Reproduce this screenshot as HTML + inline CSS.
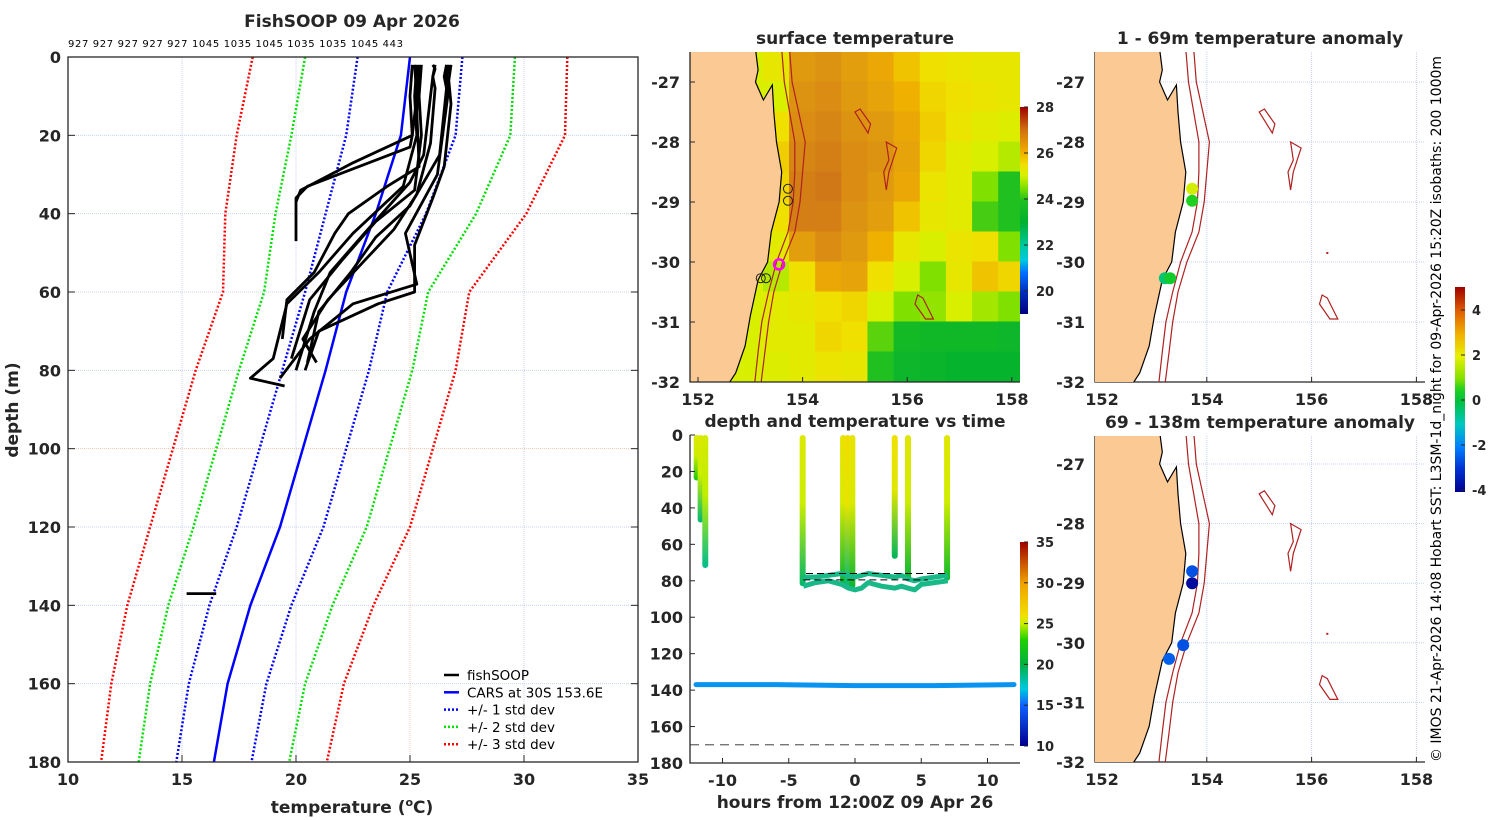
<!DOCTYPE html>
<html><head><meta charset="utf-8"><title>FishSOOP 09 Apr 2026</title>
<style>
html,body{margin:0;padding:0;background:#fff;}
svg{display:block;font-family:"DejaVu Sans","Liberation Sans",sans-serif;}
</style></head>
<body>
<svg id="fig" width="1500" height="820" viewBox="0 0 1500 820" xmlns="http://www.w3.org/2000/svg">
<defs>
<clipPath id="clipA"><rect x="690" y="52" width="330" height="330"/></clipPath>
<clipPath id="clipB"><rect x="1095" y="52" width="330" height="330"/></clipPath>
<clipPath id="clipC"><rect x="1095" y="436" width="330" height="326"/></clipPath>
<linearGradient id="gSST" x1="0" y1="1" x2="0" y2="0">
<stop offset="0" stop-color="#000080"/><stop offset="0.11" stop-color="#0030c0"/><stop offset="0.2" stop-color="#0070ff"/><stop offset="0.26" stop-color="#00c8e0"/><stop offset="0.33" stop-color="#00c8a0"/><stop offset="0.44" stop-color="#00b030"/><stop offset="0.55" stop-color="#20c020"/><stop offset="0.61" stop-color="#80e000"/><stop offset="0.67" stop-color="#d8f000"/><stop offset="0.72" stop-color="#f0e000"/><stop offset="0.78" stop-color="#f0b000"/><stop offset="0.89" stop-color="#d07010"/><stop offset="1" stop-color="#a00000"/>
</linearGradient>
<linearGradient id="gT" x1="0" y1="1" x2="0" y2="0">
<stop offset="0" stop-color="#00008f"/><stop offset="0.2" stop-color="#1060ff"/><stop offset="0.28" stop-color="#00c8e0"/><stop offset="0.4" stop-color="#00b040"/><stop offset="0.52" stop-color="#20d000"/><stop offset="0.6" stop-color="#c8f000"/><stop offset="0.64" stop-color="#f0e000"/><stop offset="0.8" stop-color="#f0a000"/><stop offset="1" stop-color="#a00000"/>
</linearGradient>
<linearGradient id="gAn" x1="0" y1="1" x2="0" y2="0">
<stop offset="0" stop-color="#00008f"/><stop offset="0.11" stop-color="#0030d0"/><stop offset="0.22" stop-color="#0080ff"/><stop offset="0.33" stop-color="#00c8c0"/><stop offset="0.44" stop-color="#00c040"/><stop offset="0.5" stop-color="#20d020"/><stop offset="0.55" stop-color="#80e000"/><stop offset="0.66" stop-color="#e8f000"/><stop offset="0.77" stop-color="#f0b000"/><stop offset="0.88" stop-color="#e06000"/><stop offset="1" stop-color="#a00000"/>
</linearGradient>
</defs>
</svg>
<script>
// ---------------- DATA ----------------
const cnts = "927 927 927 927 927 1045 1035 1045 1035 1035 1045 443";
const carsDepth = [0,20,40,60,80,100,120,140,160,180];
const carsMean = [25.0,24.6,23.5,22.2,21.3,20.3,19.3,18.0,17.0,16.4];
const carsStd = [2.3,2.4,2.2,1.8,1.9,1.9,1.9,1.8,1.7,1.65];
const profTemps = [
 [25.1,25.0,25.1,25.0,20.5,20.0,20.0],
 [25.2,25.3,25.1,22.5,20.2,20.0],
 [25.4,25.3,25.4,24.0,22.3,21.7,20.8,19.6,19.4],
 [26.6,26.5,26.6,26.3,25.0,23.5,22.4,21.0,20.5],
 [26.8,26.7,26.8,26.5,26.0,25.2,25.2,23.6,21.0,20.4],
 [26.0,26.1,26.0,25.6,25.0,23.0,21.5,20.8,20.0],
 [25.5,25.4,25.5,25.2,23.5,22.0,20.6,19.8],
 [26.7,26.6,26.7,26.2,24.8,25.3,22.5,20.6,19.3],
 [25.3,25.2,25.3,24.7,22.5,21.0,19.6,19.0,18.0,19.5],
 [26.1,26.0,26.1,25.9,25.3,24.3,23.0,21.4,20.3,20.9],
 [15.2,16.5]
];
const profDepths = [
 [2,10,20,23,33,36,47],
 [2,10,20,27,34,37],
 [2,14,28,33,40,45,55,62,72],
 [2,5,8,25,38,46,55,65,78],
 [2,6,12,28,36,48,60,63,70,80],
 [2,3,5,25,32,45,55,65,80],
 [2,10,20,34,42,52,62,77],
 [2,5,8,30,45,58,63,72,82],
 [2,10,20,33,45,55,63,77,82,84],
 [2,5,8,22,35,44,52,62,72,78],
 [137,137]
];
const sstLats = [-26.75,-27.25,-27.75,-28.25,-28.75,-29.25,-29.75,-30.25,-30.75,-31.25,-31.75];
const sstLons = [152.0,152.5,153.0,153.5,154.0,154.5,155.0,155.5,156.0,156.5,157.0,157.5,158.0];
const sstVals = [
 [25,25,25,25.3,26.5,26.6,26.4,26.2,25.8,25.5,25.4,25.3,25.3],
 [25,25,25,25.0,26.6,26.7,26.5,26.3,26.0,25.6,25.5,25.4,25.3],
 [25,25,25,25.5,26.7,26.8,26.6,26.5,26.2,25.7,25.4,25.2,25.1],
 [25,25,25,25.7,26.8,26.9,26.7,26.6,26.3,25.6,25.2,25.0,24.8],
 [25,25,25,25.6,26.9,27.0,26.7,26.5,26.2,25.4,25.2,24.5,24.0],
 [25,25,25,25.5,26.9,26.9,26.6,26.4,25.8,25.3,25.2,24.2,24.0],
 [25,25,25,25.2,26.4,26.7,26.5,26.0,25.3,25.0,25.4,25.5,24.5],
 [25,25,25,24.8,25.5,26.2,26.3,25.5,25.0,24.5,25.3,25.8,25.6],
 [25,25,25,25.2,25.3,25.5,25.6,25.0,24.5,24.6,25.0,24.7,24.5],
 [25,25,25,25.2,25.2,25.6,25.5,24.3,23.6,23.5,23.5,23.5,23.4],
 [25,25,25,25.1,25.2,25.4,25.3,24.0,23.4,23.3,23.2,23.2,23.2]
];
const coastLon = [151.8,153.1,153.15,153.1,153.25,153.42,153.45,153.5,153.6,153.55,153.4,153.33,153.15,153.0,152.9,152.72,152.57,151.8];
const coastLat = [-26.45,-26.45,-26.8,-27.0,-27.3,-27.05,-27.5,-28.0,-28.5,-29.0,-29.5,-30.0,-30.3,-30.9,-31.4,-31.85,-32.05,-32.05];
const iso200Lat = [-26.45,-27.0,-28.0,-28.5,-29.0,-29.5,-30.0,-30.5,-31.0,-31.5,-32.05];
const iso200Lon = [153.6,153.65,153.85,153.85,153.82,153.72,153.5,153.35,153.22,153.15,153.08];
const iso1000Lon = [153.75,153.8,154.05,154.0,153.95,153.85,153.62,153.45,153.35,153.28,153.2];
const smtLon = [[155.0,155.1,155.3,155.25,155.0],[155.6,155.8,155.65,155.6,155.55,155.65,155.6],[156.2,156.3,156.5,156.35,156.15,156.2]];
const smtLat = [[-27.5,-27.45,-27.7,-27.85,-27.5],[-28.0,-28.1,-28.5,-28.8,-28.5,-28.3,-28.0],[-30.55,-30.6,-30.95,-30.95,-30.7,-30.55]];
const stnLon = [153.72,153.72,153.2,153.3];
const stnLat = [-28.78,-28.98,-30.27,-30.27];
const anomTop = [1.8,0.5,-0.4,0.3];
const anomBotLon = [153.72,153.72,153.55,153.28];
const anomBotLat = [-28.8,-29.0,-30.04,-30.27];
const anomBot = [-2.6,-3.8,-2.6,-2.4];
const castTime = [-11.95,-11.65,-11.3,-3.95,-0.9,-0.55,-0.2,3.0,4.0,6.95];
const castDepth = [25,48,73,83,82,84,84,68,80,80];
const castTop = [25.5,25.5,25.3,25.5,25.8,26.2,25.8,26.0,25.6,25.6];
const castBot = [22.0,19.0,18.5,19.2,20.5,19.0,20.5,19.5,20.5,21.0];
const botTime = [-3.9,-3,-2,-1,-0.5,0,0.5,1,2,3,3.5,4,4.5,5,6,7];
const botDepthA = [83,81,80,82,84,85,84,81,83,84,83,84,85,82,81,80];
const botDepthB = [78,78,77,76,77,78,77,76,77,78,77,79,80,79,78,77];
const deepTime = [-12,-6,0,6,12];
const deepDepth = [137,137,137.5,137.5,137];
const deepTemp = [16.5,16.0,15.6,16.0,16.0];
const botDash = [170];

// ---------------- HELPERS ----------------
const NS = "http://www.w3.org/2000/svg";
const svg = document.getElementById('fig');
function mk(tag, attrs, parent){
  const e = document.createElementNS(NS, tag);
  for (const k in attrs) e.setAttribute(k, attrs[k]);
  (parent||svg).appendChild(e);
  return e;
}
function txt(x,y,s,size,anchor,parent,bold){
  const e = mk('text',{x:x,y:y,'font-size':size,'text-anchor':anchor||'middle','font-weight':bold===false?'normal':'bold',fill:bold===false?'#000':'#262626'},parent);
  e.textContent = s;
  return e;
}
function lerpColor(stops, v){
  if (v<=stops[0][0]) return stops[0][1];
  for (let i=1;i<stops.length;i++){
    if (v<=stops[i][0]){
      const a=stops[i-1], b=stops[i], f=(v-a[0])/(b[0]-a[0]);
      const ca=[1,3,5].map(j=>parseInt(a[1].substr(j,2),16)), cb=[1,3,5].map(j=>parseInt(b[1].substr(j,2),16));
      return 'rgb('+ca.map((c,j)=>Math.round(c+(cb[j]-c)*f)).join(',')+')';
    }
  }
  return stops[stops.length-1][1];
}
const sstStops=[[19,'#000080'],[20,'#0030c0'],[21,'#0070ff'],[21.5,'#00c8e0'],[22,'#00c8a0'],[23,'#00b030'],[24,'#20c020'],[24.5,'#80e000'],[25,'#d8f000'],[25.5,'#f0e000'],[26,'#f0b000'],[26.5,'#e09a10'],[27,'#d07818'],[27.5,'#c04010'],[28,'#a00000']];
const tStops=[[10,'#00008f'],[15,'#1060ff'],[17,'#00c8e0'],[20,'#00b040'],[23,'#20d000'],[25,'#c8f000'],[26,'#f0e000'],[30,'#f0a000'],[35,'#a00000']];
const aStops=[[-4,'#00008f'],[-3,'#0030d0'],[-2,'#0080ff'],[-1,'#00c8c0'],[0,'#00c040'],[0.5,'#20d020'],[1,'#80e000'],[2,'#e8f000'],[3,'#f0b000'],[4,'#e06000'],[5,'#a00000']];

// ---------------- LEFT PANEL ----------------
const tx = t => 68+(t-10)*22.8;
const dy = d => 57+d*(705/180);
const gL = mk('g',{});


const tl = txt(352,27,'FishSOOP 09 Apr 2026',17,'middle',gL);


const cl = txt(68,47,cnts,10,'start',gL,false);
cl.setAttribute('textLength','335');


[15,20,25,30].forEach(t=>{
  const l = mk('line',{x1:tx(t),x2:tx(t),y1:57,y2:762,stroke:t===25?'#f0c8b0':'#c8d0f0','stroke-width':1,'stroke-dasharray':'1,1'},gL);
  
  
});
[20,40,60,80,100,120,140,160].forEach(d=>{
  const l = mk('line',{x1:68,x2:638,y1:dy(d),y2:dy(d),stroke:d===100?'#f0c8b0':'#c8d0f0','stroke-width':1,'stroke-dasharray':'1,1'},gL);
  
  
});
function pathOf(xs, ys){ return xs.map((x,i)=>(i?'L':'M')+x.toFixed(1)+','+ys[i].toFixed(1)).join(''); }
const stdCols = ['#0000ff','#00e000','#ff0000'];
[1,2,3].forEach(k=>{
  [-1,1].forEach(sg=>{
    const p = mk('path',{d:pathOf(carsMean.map((m,i)=>tx(m+sg*k*carsStd[i])), carsDepth.map(dy)),fill:'none',stroke:stdCols[k-1],'stroke-width':2.5,'stroke-dasharray':'2,2'},gL);
    
    
  });
});
const cars = mk('path',{d:pathOf(carsMean.map(tx), carsDepth.map(dy)),fill:'none',stroke:'#0000ff','stroke-width':2.5},gL);


profTemps.forEach((ts,i)=>{
  const p = mk('path',{d:pathOf(ts.map(tx), profDepths[i].map(dy)),fill:'none',stroke:'#000','stroke-width':2.8,'stroke-linejoin':'round'},gL);
  
  
});
const boxL = mk('rect',{x:68,y:57,width:570,height:705,fill:'none',stroke:'#262626','stroke-width':1.3},gL);


[10,15,20,25,30,35].forEach(t=>{
  mk('line',{x1:tx(t),x2:tx(t),y1:762,y2:755,stroke:'#262626'},gL);
  const e = txt(tx(t),785,String(t),16,'middle',gL);
  
  
});
[0,20,40,60,80,100,120,140,160,180].forEach(d=>{
  mk('line',{x1:68,x2:75,y1:dy(d),y2:dy(d),stroke:'#262626'},gL);
  mk('line',{x1:638,x2:631,y1:dy(d),y2:dy(d),stroke:'#262626'},gL);
  const e = txt(61,dy(d)+6,String(d),16,'end',gL);
  
  
});
const xl = mk('text',{x:352,y:813,'font-size':17,'text-anchor':'middle','font-weight':'bold',fill:'#262626'},gL);
xl.innerHTML = 'temperature (<tspan dy="-7" font-size="11">o</tspan><tspan dy="7">C)</tspan>';


const yl = mk('text',{x:0,y:0,'font-size':17,'text-anchor':'middle','font-weight':'bold',fill:'#262626',transform:'translate(18,410) rotate(-90)'},gL);
yl.textContent = 'depth (m)';


const legItems = [['fishSOOP','#000',''],['CARS at 30S 153.6E','#0000ff',''],['+/- 1 std dev','#0000ff','2,2'],['+/- 2 std dev','#00e000','2,2'],['+/- 3 std dev','#ff0000','2,2']];
legItems.forEach((it,i)=>{
  const y = 675+i*17.3;
  const g = mk('g',{},gL);
  
  
  mk('line',{x1:444,x2:459,y1:y,y2:y,stroke:it[1],'stroke-width':2.5,'stroke-dasharray':it[2]||'none'},g);
  txt(467,y+5,it[0],13.5,'start',g,false);
});

// ---------------- MAPS ----------------
const mxA = lon => 698+(lon-152)*52.3;
const myA = lat => 82+(-27-lat)*60;
const mxB = lon => 1102+(lon-152)*52.4;
const myC = lat => 464+(-27-lat)*59.6;
function drawGeo(g, mx, my){
  const land = mk('path',{d:pathOf(coastLon.map(mx),coastLat.map(my))+'Z',fill:'#fbc994',stroke:'#000','stroke-width':1.2},g);
  
  
  const i2 = mk('path',{d:pathOf(iso200Lon.map(mx),iso200Lat.map(my)),fill:'none',stroke:'#b02020','stroke-width':1.2},g);
  
  
  const i1 = mk('path',{d:pathOf(iso1000Lon.map(mx),iso200Lat.map(my)),fill:'none',stroke:'#b02020','stroke-width':1.2},g);
  
  
  smtLon.forEach((ls,i)=>{
    const s = mk('path',{d:pathOf(ls.map(mx),smtLat[i].map(my))+'Z',fill:'none',stroke:'#b02020','stroke-width':1.2},g);
    
    
  });
}
function mapAxes(g, x0,y0,w,h, mx, my, lats, title, grid){
  if (grid){
    [154,156,158].forEach(l=>{ mk('line',{x1:mx(l),x2:mx(l),y1:y0,y2:y0+h,stroke:'#c8d0f0','stroke-dasharray':'1,1'},g); });
    lats.forEach(l=>{ mk('line',{x1:x0,x2:x0+w,y1:my(l),y2:my(l),stroke:'#c8d0f0','stroke-dasharray':'1,1'},g); });
  }
  const ax = mk('path',{d:`M${x0},${y0}V${y0+h}H${x0+w}`,fill:'none',stroke:'#262626','stroke-width':1.3},g);
  
  
  [152,154,156,158].forEach(l=>{
    mk('line',{x1:mx(l),x2:mx(l),y1:y0+h,y2:y0+h-5,stroke:'#262626'},g);
    const e = txt(mx(l),y0+h+23,String(l),16,'middle',g);
    
    
  });
  lats.forEach(l=>{
    mk('line',{x1:x0,x2:x0+5,y1:my(l),y2:my(l),stroke:'#262626'},g);
    const e = txt(x0-10,my(l)+6,String(l),16,'end',g);
    
    
  });
  const t = txt(x0+w/2,y0-8,title,17,'middle',g);
  
  
}
const latTicks=[-27,-28,-29,-30,-31,-32];
// SST map
const gA = mk('g',{});


const gAc = mk('g',{'clip-path':'url(#clipA)'},gA);
sstVals.forEach((row,r)=>{
  row.forEach((v,c)=>{
    const x1=mxA(sstLons[c]-0.25), x2=mxA(sstLons[c]+0.25), y1=myA(sstLats[r]+0.25), y2=myA(sstLats[r]-0.25);
    const cell = mk('rect',{x:x1-0.5,y:y1-0.5,width:x2-x1+1,height:y2-y1+1,fill:lerpColor(sstStops,v)},gAc);
    
    
  });
});
drawGeo(gAc, mxA, myA);
stnLon.forEach((l,i)=>{
  const c = mk('circle',{cx:mxA(l),cy:myA(stnLat[i]),r:4.5,fill:'none',stroke:'#222','stroke-width':1},gAc);
  
  
});
const mag = mk('circle',{cx:mxA(153.55),cy:myA(-30.04),r:5,fill:'none',stroke:'#ff00ff','stroke-width':2.5},gAc);


mapAxes(gA,690,52,330,330,mxA,myA,latTicks,'surface temperature',false);
const cbA = mk('rect',{x:1020,y:107,width:8,height:207,fill:'url(#gSST)'},gA);


[20,22,24,26,28].forEach(v=>{
  const y = 107+(28-v)*23;
  mk('line',{x1:1024,x2:1028,y1:y,y2:y,stroke:'#262626'},gA);
  const e = txt(1036,y+5,String(v),13,'start',gA);
  
  
});

// anomaly maps
function anomMap(y0,h,my,title,lats,lonArr,latArr,vals,clip,name){
  const g = mk('g',{});
  
  
  mapAxes(g,1095,y0,330,h,mxB,my,lats,title,true);
  const gc = mk('g',{'clip-path':clip},g);
  drawGeo(gc,mxB,my);
  mk('rect',{x:mxB(156.3)-1,y:my(-29.85)-1,width:2,height:2,fill:'#b02020'},gc);
  vals.forEach((v,i)=>{
    const d = mk('circle',{cx:mxB(lonArr[i]),cy:my(latArr[i]),r:6,fill:lerpColor(aStops,v)},gc);
    
    
  });
}
anomMap(52,330,myA,'1 - 69m temperature anomaly',latTicks,stnLon,stnLat,anomTop,'url(#clipB)','anomaly-map-shallow');
anomMap(436,326,myC,'69 - 138m temperature anomaly',latTicks,anomBotLon,anomBotLat,anomBot,'url(#clipC)','anomaly-map-deep');
const cbB = mk('rect',{x:1455,y:287,width:10,height:205,fill:'url(#gAn)'},svg);


[4,2,0,-2,-4].forEach(v=>{
  const y = 400-v*22.5;
  mk('line',{x1:1461,x2:1465,y1:y,y2:y,stroke:'#262626'});
  const e = txt(1472,y+5,String(v),13,'start');
  
  
});
const cr = mk('text',{x:0,y:0,'font-size':14,'text-anchor':'start',fill:'#000',textLength:706,lengthAdjust:'spacingAndGlyphs',transform:'translate(1441,762) rotate(-90)'});
cr.textContent = '\u00a9 IMOS 21-Apr-2026 14:08 Hobart SST: L3SM-1d_night for 09-Apr-2026 15:20Z isobaths: 200  1000m';



// ---------------- TIME PANEL ----------------
const hx = h => 855+h*13.25;
const hy = d => 435+d*(328/180);
const gT = mk('g',{});


castTime.forEach((t,i)=>{
  const gid = 'cg'+i;
  const lg = mk('linearGradient',{id:gid,x1:0,y1:0,x2:0,y2:1,gradientUnits:'objectBoundingBox'},gT);
  mk('stop',{offset:0,'stop-color':lerpColor(tStops,castTop[i])},lg);
  mk('stop',{offset:0.45,'stop-color':lerpColor(tStops,castTop[i]-0.4)},lg);
  mk('stop',{offset:1,'stop-color':lerpColor(tStops,castBot[i])},lg);
  const r = mk('rect',{x:hx(t)-3,y:hy(0),width:6,height:hy(castDepth[i])-hy(0),rx:3,fill:'url(#'+gid+')'},gT);
  
  
});
[botDepthA,botDepthB].forEach(arr=>{
  const p = mk('path',{d:pathOf(botTime.map(hx),arr.map(hy)),fill:'none',stroke:'#18b888','stroke-width':5,'stroke-linejoin':'round'},gT);
  
  
});
const dl1 = mk('line',{x1:hx(-3.7),x2:hx(7),y1:hy(76),y2:hy(76),stroke:'#000','stroke-dasharray':'7,4'},gT);


const dl2 = mk('line',{x1:hx(-3.9),x2:hx(5.5),y1:hy(79.5),y2:hy(79.5),stroke:'#000','stroke-dasharray':'7,4'},gT);


const deep = mk('path',{d:pathOf(deepTime.map(hx),deepDepth.map(hy)),fill:'none',stroke:lerpColor(tStops,deepTemp[1]),'stroke-width':5,'stroke-linecap':'round'},gT);


const gd = mk('line',{x1:690,x2:1020,y1:hy(botDash[0]),y2:hy(botDash[0]),stroke:'#666','stroke-width':1.3,'stroke-dasharray':'9,6'},gT);


const axT = mk('path',{d:'M690,435V763H1020',fill:'none',stroke:'#262626','stroke-width':1.3},gT);


[-10,-5,0,5,10].forEach(h=>{
  mk('line',{x1:hx(h),x2:hx(h),y1:763,y2:758,stroke:'#262626'},gT);
  const e = txt(hx(h),786,String(h),16,'middle',gT);
  
  
});
[0,20,40,60,80,100,120,140,160,180].forEach(d=>{
  mk('line',{x1:690,x2:695,y1:hy(d),y2:hy(d),stroke:'#262626'},gT);
  const e = txt(683,hy(d)+6,String(d),16,'end',gT);
  
  
});
const tt = txt(855,427,'depth and temperature vs time',17,'middle',gT);


const txl = txt(855,808,'hours from 12:00Z 09 Apr 26',17,'middle',gT);


const cbT = mk('rect',{x:1020,y:542,width:8,height:204,fill:'url(#gT)'},gT);


[10,15,20,25,30,35].forEach(v=>{
  const y = 746-(v-10)*(204/25);
  mk('line',{x1:1024,x2:1028,y1:y,y2:y,stroke:'#262626'},gT);
  const e = txt(1036,y+5,String(v),13,'start',gT);
  
  
});
</script>
</body></html>
